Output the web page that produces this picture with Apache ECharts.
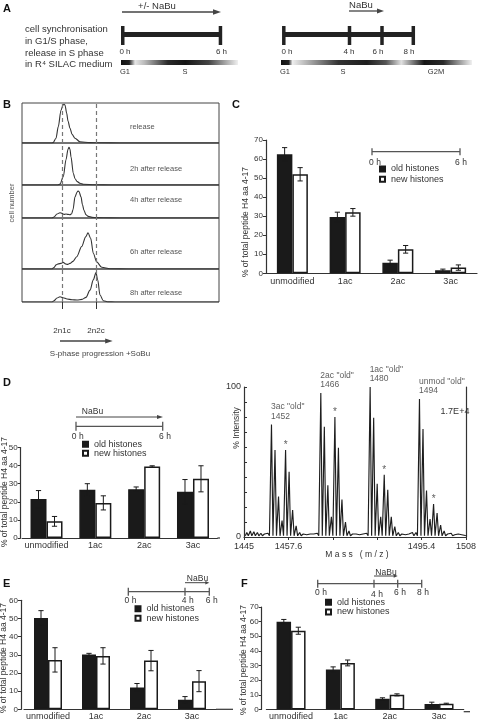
<!DOCTYPE html>
<html><head><meta charset="utf-8">
<script src="https://cdn.jsdelivr.net/npm/echarts@6/dist/echarts.min.js"></script>
<style>html,body{margin:0;padding:0;background:#fff}#c{width:479px;height:721px}</style>
</head><body><div id="c"></div>
<script>
// ---------------- DATA ----------------
const categories = ['unmodified', '1ac', '2ac', '3ac'];
const seriesNames = ['old histones', 'new histones'];

// Panel C (0-6 h, +/- NaBu)
const cOld = [62.5, 29.6, 5.6, 1.6];
const cOldErr = [3.5, 2.5, 1.3, 0.6];
const cNew = [52.0, 32.0, 12.6, 3.0];
const cNewErr = [3.5, 2.0, 2.0, 1.4];
// Panel D (0-6 h, NaBu)
const dOld = [21.5, 26.6, 27.0, 25.5];
const dOldErr = [4.7, 3.4, 1.2, 6.8];
const dNew = [9.2, 19.4, 39.5, 32.7];
const dNewErr = [2.7, 3.9, 0.4, 7.2];
// Panel E (NaBu 4-6 h)
const eOld = [50.3, 30.2, 12.0, 5.2];
const eOldErr = [4.0, 0.6, 2.2, 1.8];
const eNew = [27.2, 29.4, 26.8, 15.5];
const eNewErr = [6.7, 4.5, 5.6, 5.8];
// Panel F (NaBu 4-6 h, harvest 8 h)
const fOld = [60.0, 27.3, 7.4, 3.8];
const fOldErr = [1.5, 1.8, 0.6, 1.2];
const fNew = [53.8, 31.8, 10.0, 3.9];
const fNewErr = [2.4, 2.0, 0.7, 0.4];

// Panel B: FACS DNA-content histograms (channel, % of strip max)
const stripLabels = ['release', '2h after release', '4h after release', '6h after release', '8h after release'];
const histRelease = [[0,0],[30,0],[31,1],[34,12],[36.3,41],[39,82],[41,95],[42,97],[43,95],[44.7,74],[46,55],[48,37],[50,22],[53,12],[58,3],[68,1],[78,0.5],[98,0],[197,0]];
const hist2h = [[0,0],[36,0],[38,2],[41.3,20],[44,60],[46,85],[47,90],[48,85],[49,67],[51.3,28],[53,15],[55.3,8],[58,4],[61.3,1.7],[73,0.5],[90,0],[197,0]];
const hist4h = [[0,0],[30,0],[32,3],[35,12],[38,16],[40,14],[42,11],[44,12],[46,11],[48,10],[49.7,13],[51,25],[53,64],[55,78],[56,82],[57,80],[59,64],[60.5,40],[62,23],[64,10],[66.3,5],[70,2],[74.7,1],[88,0.3],[110,0],[197,0]];
const hist6h = [[0,0],[30,0],[32,3],[34,8],[36.3,10],[39,11],[41.3,13],[43.5,10],[45.7,9],[48,11],[51,15],[54.7,24],[59.7,44],[63.7,63],[66,71],[68.7,60],[71.3,31],[74.7,14],[79.7,3.3],[88,0.6],[108,0],[197,0]];
const hist8h = [[0,0],[30,0],[32,4],[35,12],[38,16],[41,13],[45,9],[50,7],[55,6],[60,8],[64,14],[68,36],[71.3,67],[74,89],[75.7,67],[78,21],[81.3,4],[86,0.5],[93,0],[197,0]];
const histograms = [histRelease, hist2h, hist4h, hist6h, hist8h];
const ploidyChannels = [40, 74];
const ploidyLabels = ['2n1c', '2n2c'];

// Mass spectrum: isotopic positions from 1445.8 (1 Da apart), % intensity
const specFirstMass = 1445.8;
const specIntensity = [3,4,3.5,3,2.5,2,2.5,
  75,58,27,11,58,43.5,18,7.5,3,2,1.5,2,2,2.5,
  96,73.5,34.5,13.5,80,59.5,25,10,4,2,2,1.5,2,2.5,
  100,79.5,35.5,13.5,41.5,31.5,13.5,7,3,2,1.5,2,3,3,
  92,72,31,12,22,16,8,4,2,2.5,1.5,2,1.5,1];
const monoIdx = [7, 21, 35, 49];
const starIdx = [11, 25, 39, 53];
const peakNames = ['3ac "old"', '2ac "old"', '1ac "old"', 'unmod "old"'];
const peakMasses = ['1452', '1466', '1480', '1494'];
const specAxisStart = 1445;
const specShownTicks = [1445, 1457.6, 1495.4, 1508];

// ---------------- STYLE / HELPERS ----------------
const FONT = '"Liberation Sans", Arial, Helvetica, sans-serif';
const INK = '#1a1a1a';
const AX = '#333';
const GR = '#555';

function T(x, y, text, size, opt) {
  opt = opt || {};
  return {type: 'text', x: x, y: y, rotation: opt.rot || 0, silent: true, z: 10,
    style: {text: text, font: (opt.bold ? 'bold ' : '') + size + 'px ' + FONT, fill: opt.color || '#333',
      align: opt.align || 'center', verticalAlign: 'middle'}};
}
function L(x1, y1, x2, y2, w, c) {
  return {type: 'line', silent: true, z: 10, shape: {x1: x1, y1: y1, x2: x2, y2: y2}, style: {stroke: c || GR, lineWidth: w || 1}};
}
function R(x, y, w, h, fill) {
  return {type: 'rect', silent: true, z: 10, shape: {x: x, y: y, width: w, height: h}, style: {fill: fill}};
}
function arrow(x1, x2, y, w, c, hl, hh) {
  return [L(x1, y, x2 - hl + 1, y, w, c),
    {type: 'polygon', silent: true, z: 10, shape: {points: [[x2 - hl, y - hh], [x2, y], [x2 - hl, y + hh]]}, style: {fill: c}}];
}
function timeline(xs, y, cap, w, c) {
  const a = [L(xs[0], y, xs[xs.length - 1], y, w, c)];
  xs.forEach(function (x) { a.push(L(x, y - cap, x, y + cap, w, c)); });
  return a;
}

// ---------------- GRIDS ----------------
const stripTops = [103, 143, 185, 218, 269];
const stripH = [40, 42, 33, 51, 33];
const grids = [];
const xAxes = [];
const yAxes = [];
const series = [];

stripTops.forEach(function (top, i) {
  grids.push({left: 22, top: top, width: 197, height: stripH[i], show: true, borderColor: '#444', borderWidth: 1, backgroundColor: 'transparent'});
  const last = i === 4;
  xAxes.push({gridIndex: i, type: 'value', min: 0, max: 197, show: last,
    axisLine: {show: false}, splitLine: {show: false},
    axisTick: {show: last, customValues: ploidyChannels, length: 7, lineStyle: {color: AX, width: 1}},
    axisLabel: {show: last, customValues: ploidyChannels, margin: 25, fontSize: 8, color: '#333', fontFamily: FONT,
      formatter: function (v) { const k = ploidyChannels.indexOf(v); return k >= 0 ? ploidyLabels[k] : ''; }}});
  yAxes.push({gridIndex: i, type: 'value', min: 0, max: 100, show: false});
  series.push({type: 'line', xAxisIndex: i, yAxisIndex: i, data: histograms[i], smooth: 0.3, smoothMonotone: 'x',
    symbol: 'none', silent: true, lineStyle: {color: '#333', width: 1.1},
    markLine: {silent: true, symbol: 'none', label: {show: false},
      lineStyle: {color: '#777', width: 1.2, type: [4, 3]},
      data: ploidyChannels.map(function (c) { return {xAxis: c}; })}});
});

function barPanel(idx, g, yMax, yOffset, old, oldErr, neu, neuErr, barW, labelMargin) {
  grids.push(Object.assign({show: false}, g));
  xAxes.push({gridIndex: idx, type: 'category', data: categories,
    axisLine: {lineStyle: {color: AX, width: 1.2}}, axisTick: {show: false},
    axisLabel: {interval: 0, fontSize: 9, color: '#333', margin: labelMargin, fontFamily: FONT}});
  yAxes.push({gridIndex: idx, type: 'value', min: 0, max: yMax, interval: 10, offset: yOffset,
    axisLine: {show: true, lineStyle: {color: AX, width: 1.2}},
    axisTick: {show: true, length: 3, lineStyle: {color: AX}},
    axisLabel: {fontSize: 8, color: '#333', margin: 3, fontFamily: FONT},
    splitLine: {show: false}});
  series.push({name: seriesNames[0], type: 'bar', xAxisIndex: idx, yAxisIndex: idx, data: old, barWidth: barW, barGap: '0%',
    itemStyle: {color: INK, borderColor: INK, borderWidth: 1.5}, silent: true});
  series.push({name: seriesNames[1], type: 'bar', xAxisIndex: idx, yAxisIndex: idx, data: neu, barWidth: barW, barGap: '0%',
    itemStyle: {color: '#fff', borderColor: INK, borderWidth: 1.5}, silent: true});
  [[old, oldErr, -1], [neu, neuErr, 1]].forEach(function (s) {
    series.push({type: 'custom', xAxisIndex: idx, yAxisIndex: idx, z: 5, silent: true,
      data: s[0].map(function (v, i) { return [i, v - s[1][i], v + s[1][i]]; }),
      encode: {x: 0, y: [1, 2]},
      renderItem: function (params, api) {
        const i = api.value(0);
        const lo = api.coord([i, api.value(1)]);
        const hi = api.coord([i, api.value(2)]);
        const x = lo[0] + s[2] * barW / 2;
        const cw = 2.6;
        const st = {stroke: INK, lineWidth: 1};
        return {type: 'group', children: [
          {type: 'line', shape: {x1: x, y1: lo[1], x2: x, y2: hi[1]}, style: st},
          {type: 'line', shape: {x1: x - cw, y1: hi[1], x2: x + cw, y2: hi[1]}, style: st},
          {type: 'line', shape: {x1: x - cw, y1: lo[1], x2: x + cw, y2: lo[1]}, style: st}]};
      }});
  });
}

// index 5: C, 6: D
barPanel(5, {left: 266, top: 140, width: 211, height: 133.3}, 70, 0, cOld, cOldErr, cNew, cNewErr, 15.5, 4);
barPanel(6, {left: 22.1, top: 447.5, width: 195.3, height: 90.5}, 50, 1.4, dOld, dOldErr, dNew, dNewErr, 16, 3.5);

// index 7: spectrum
grids.push({left: 244, top: 387, width: 228, height: 150, show: false});
xAxes.push({gridIndex: 7, type: 'value', min: 0, max: 63, interval: 12.6,
  axisLine: {lineStyle: {color: AX, width: 1.2}}, axisTick: {show: true, length: 3, lineStyle: {color: AX}},
  splitLine: {show: false},
  axisLabel: {fontSize: 9, color: '#333', margin: 5, fontFamily: FONT, showMinLabel: true, showMaxLabel: true,
    formatter: function (v) { const m = Math.round((v + specAxisStart) * 10) / 10; return specShownTicks.indexOf(m) >= 0 ? String(m) : ''; }}});
yAxes.push({gridIndex: 7, type: 'value', min: 0, max: 100, interval: 10,
  axisLine: {show: true, lineStyle: {color: AX, width: 1.2}},
  axisTick: {show: true, inside: true, length: 3, lineStyle: {color: AX}},
  splitLine: {show: false},
  axisLabel: {fontSize: 9, color: '#333', margin: 3, fontFamily: FONT,
    formatter: function (v) { return (v === 0 || v === 100) ? String(v) : ''; }}});

const specLine = [];
specIntensity.forEach(function (h, i) {
  const m = specFirstMass + i - specAxisStart;
  specLine.push([m - 0.42, 0.8], [m, h], [m + 0.42, 0.8]);
});
series.push({type: 'line', xAxisIndex: 7, yAxisIndex: 7, data: specLine, symbol: 'none', silent: true,
  lineStyle: {color: '#1e1e1e', width: 1.15}});
const clear = 'rgba(0,0,0,0)';
series.push({type: 'scatter', xAxisIndex: 7, yAxisIndex: 7, symbolSize: 1, itemStyle: {color: clear}, silent: true, z: 6,
  data: monoIdx.map(function (i) { return [specFirstMass + i - specAxisStart, specIntensity[i]]; }),
  label: {show: true, position: [0, -3], align: 'left', verticalAlign: 'bottom', fontSize: 8.5, lineHeight: 9.5,
    color: '#333', fontFamily: FONT,
    formatter: function (p) { return peakNames[p.dataIndex] + '\n' + peakMasses[p.dataIndex]; }}});
series.push({type: 'scatter', xAxisIndex: 7, yAxisIndex: 7, symbolSize: 1, itemStyle: {color: clear}, silent: true, z: 6,
  data: starIdx.map(function (i) { return [specFirstMass + i - specAxisStart, specIntensity[i]]; }),
  label: {show: true, position: 'top', distance: -1, fontSize: 10, color: '#333', fontFamily: FONT, formatter: '*'}});

// index 8: E, 9: F
barPanel(8, {left: 24, top: 600.3, width: 192, height: 109}, 60, 3, eOld, eOldErr, eNew, eNewErr, 14, 2.5);
barPanel(9, {left: 266.4, top: 607, width: 197.3, height: 104.7}, 70, 4.7, fOld, fOldErr, fNew, fNewErr, 14.5, 2.5);

// right frame of spectrum
yAxes.push({gridIndex: 7, type: 'value', min: 0, max: 100, position: 'right',
  axisLine: {show: true, lineStyle: {color: AX, width: 1.2}}, axisTick: {show: false}, axisLabel: {show: false}, splitLine: {show: false}});

// ---------------- LEGENDS ----------------
function leg(left, top, gap) {
  return {data: seriesNames, orient: 'vertical', left: left, top: top, itemWidth: 5, itemHeight: 5, itemGap: gap,
    icon: 'rect', selectedMode: false, padding: 0,
    textStyle: {fontSize: 9, lineHeight: 9, color: '#333', fontFamily: FONT, padding: [0, 0, 0, 1]}};
}

// ---------------- ANNOTATIONS ----------------
let G = [];
// Panel A
G.push(T(3, 9, 'A', 11, {bold: true, align: 'left', color: '#111'}));
['cell synchronisation', 'in G1/S phase,', 'release in S phase', 'in R\u2074 SILAC medium'].forEach(function (s, i) {
  G.push(T(25, [29, 41, 53, 64][i], s, 9.5, {align: 'left'}));
});
G = G.concat(arrow(122, 221, 12, 1.3, '#444', 8, 2.7));
G.push(T(157, 6, '+/- NaBu', 9.5));
G.push(R(122, 32, 98, 5, '#222'), R(121, 26, 3.5, 19, '#222'), R(218.7, 26, 3.5, 19, '#222'));
G.push(T(125, 52, '0 h', 8), T(221.5, 52, '6 h', 8));
G.push({type: 'rect', silent: true, shape: {x: 121, y: 60, width: 117, height: 5},
  style: {fill: new echarts.graphic.LinearGradient(0, 0, 1, 0, [
    {offset: 0, color: '#111'}, {offset: 0.07, color: '#222'}, {offset: 0.12, color: '#e6e6e6'},
    {offset: 0.2, color: '#bbb'}, {offset: 0.4, color: '#2a2a2a'}, {offset: 0.55, color: '#151515'},
    {offset: 0.75, color: '#444'}, {offset: 1, color: '#f0f0f0'}])}});
G.push(T(125, 72, 'G1', 7.5), T(185, 72, 'S', 7.5));
G = G.concat(arrow(349, 384, 11, 1.3, '#444', 7, 2.5));
G.push(T(361, 5, 'NaBu', 9.5));
G.push(R(284, 32, 130, 5, '#222'));
[283.8, 349.5, 382, 413.3].forEach(function (x) { G.push(R(x - 1.75, 26, 3.5, 19, '#222')); });
G.push(T(287, 52, '0 h', 8), T(349, 52, '4 h', 8), T(378, 52, '6 h', 8), T(409, 52, '8 h', 8));
G.push({type: 'rect', silent: true, shape: {x: 281, y: 60, width: 191, height: 5},
  style: {fill: new echarts.graphic.LinearGradient(0, 0, 1, 0, [
    {offset: 0, color: '#111'}, {offset: 0.04, color: '#222'}, {offset: 0.06, color: '#eee'},
    {offset: 0.3, color: '#333'}, {offset: 0.45, color: '#1e1e1e'}, {offset: 0.55, color: '#555'},
    {offset: 0.63, color: '#e0e0e0'}, {offset: 0.75, color: '#151515'}, {offset: 0.85, color: '#2a2a2a'},
    {offset: 1, color: '#f0f0f0'}])}});
G.push(T(285, 72, 'G1', 7.5), T(343, 72, 'S', 7.5), T(436, 72, 'G2M', 7.5));

// Panel B
G.push(T(3, 105, 'B', 11, {bold: true, align: 'left', color: '#111'}));
G.push(T(12, 203, 'cell number', 7.5, {rot: Math.PI / 2, color: '#555'}));
[127, 169, 200, 252, 293].forEach(function (y, i) { G.push(T(130, y, stripLabels[i], 7.5, {align: 'left', color: '#555'})); });
G = G.concat(arrow(60, 112.7, 341, 1.3, '#444', 7.5, 2.5));
G.push(T(100, 354, 'S-phase progression +SoBu', 8, {color: '#444'}));

// Panel C
G.push(T(232, 105, 'C', 11, {bold: true, align: 'left', color: '#111'}));
G = G.concat(timeline([372, 460], 151.7, 3.5, 1.3, GR));
G.push(T(375, 163, '0 h', 8.5), T(461, 163, '6 h', 8.5));
G.push(T(246, 222, '% of total peptide H4 aa 4-17', 8.5, {rot: Math.PI / 2}));

// Panel D
G.push(T(3, 383, 'D', 11, {bold: true, align: 'left', color: '#111'}));
G.push(T(92.5, 411.5, 'NaBu', 8.5));
G = G.concat(arrow(76, 163, 417, 1, '#444', 6, 2));
G = G.concat(timeline([76, 162.7], 426.3, 4.5, 1.3, GR));
G.push(T(77.7, 437, '0 h', 8.5), T(165, 437, '6 h', 8.5));
G.push(T(4.5, 492, '% of total peptide H4 aa 4-17', 8.5, {rot: Math.PI / 2}));
G.push(L(217.4, 538, 220, 538, 1.2, AX));
// spectrum
G.push(T(237, 428, '% Intensity', 8.5, {rot: Math.PI / 2}));
G.push(T(455, 412, '1.7E+4', 9));
G.push(T(357, 555, 'M a s s   ( m / z )', 8.5));

// Panel E
G.push(T(3, 584, 'E', 11, {bold: true, align: 'left', color: '#111'}));
G.push(T(197.5, 578.5, 'NaBu', 8.5));
G = G.concat(arrow(185, 209.3, 582.7, 1, '#444', 4, 1.8));
G = G.concat(timeline([128.3, 185, 209.3], 591.7, 4, 1.3, GR));
G.push(T(130.5, 601, '0 h', 8.5), T(187.7, 601, '4 h', 8.5), T(211.7, 601, '6 h', 8.5));
G.push(T(3.5, 658, '% of total peptide H4 aa 4-17', 8.5, {rot: Math.PI / 2}));
G.push(L(216, 709.3, 233, 709.3, 1.2, AX));

// Panel F
G.push(T(241, 584, 'F', 11, {bold: true, align: 'left', color: '#111'}));
G.push(T(386, 572.5, 'NaBu', 8.5));
G = G.concat(arrow(374, 397.7, 576, 1, '#444', 4, 1.8));
G = G.concat(timeline([317.7, 374, 397.7, 421.7], 583.7, 4, 1.3, GR));
G.push(T(321, 593, '0 h', 8.5), T(377, 594.3, '4 h', 8.5), T(400, 593, '6 h', 8.5), T(423, 593, '8 h', 8.5));
G.push(T(244, 660, '% of total peptide H4 aa 4-17', 8.5, {rot: Math.PI / 2}));
G.push(L(463.7, 711.7, 470, 711.7, 1.2, AX));

const chart = echarts.init(document.getElementById('c'), null, {renderer: 'canvas'});
chart.setOption({
  animation: false,
  backgroundColor: '#fff',
  textStyle: {fontFamily: FONT},
  grid: grids,
  xAxis: xAxes,
  yAxis: yAxes,
  legend: [leg(379, 164.5, 1.3), leg(82, 439.8, 0), leg(134.5, 604.2, 0.6), leg(325, 597.8, 0.7)],
  series: series,
  graphic: G
});
</script>
</body></html>
